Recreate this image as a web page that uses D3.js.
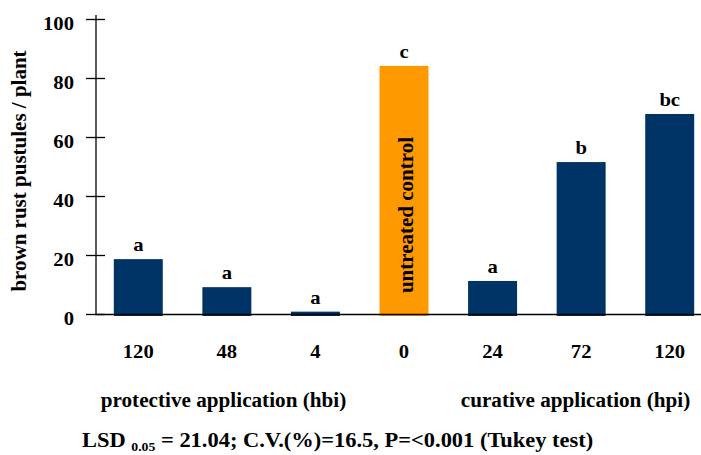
<!DOCTYPE html>
<html>
<head>
<meta charset="utf-8">
<script src="https://cdn.jsdelivr.net/npm/d3@7"></script>
<style>
  html, body { margin: 0; padding: 0; background: #ffffff; }
  svg { display: block; }
  text { font-family: "Liberation Serif", "Times New Roman", serif; font-weight: bold; fill: #000; }
</style>
</head>
<body>
<div id="chart"></div>
<script>
// ---- data ----
const tickLabels = ["120", "48", "4", "0", "24", "72", "120"];
const values = [18.6, 9.1, 0.8, 84.1, 11.2, 51.5, 67.8];
const letters = ["a", "a", "a", "c", "a", "b", "bc"];
const isControl = [false, false, false, true, false, false, false];
const yTicks = [0, 20, 40, 60, 80, 100];
const groupLabels = ["protective application (hbi)", "curative application (hpi)"];
const yTitle = "brown rust pustules / plant";
const controlLabel = "untreated control";

// ---- layout ----
const W = 701, H = 455;
const SX = 1.06; // slight horizontal stretch of the text in the original
const svg = d3.select("#chart").append("svg").attr("width", W).attr("height", H);

const idx = d3.range(values.length);
const x = d3.scaleBand().domain(idx).range([94, 714]).paddingInner(0.447).paddingOuter(0.2235);
const y = d3.scaleLinear().domain([0, 100]).range([314, 19]);

function stext(px, py, str, size, anchor) {
  const g = svg.append("g").attr("transform", `translate(${px},${py}) scale(${SX},1)`);
  return g.append("text").attr("text-anchor", anchor || "middle").style("font-size", size + "px").text(str);
}

// bars
svg.append("g").selectAll("rect").data(idx).join("rect")
  .attr("x", i => x(i))
  .attr("width", x.bandwidth())
  .attr("y", i => y(values[i]))
  .attr("height", i => y(0) - y(values[i]) + 2)
  .attr("fill", i => isControl[i] ? "#ff9900" : "#003366");

// y axis
const yAxis = d3.axisLeft(y).tickValues(yTicks).tickSize(10).tickFormat("");
const gy = svg.append("g").attr("transform", "translate(96,0)").call(yAxis);
gy.select(".domain").remove();
gy.selectAll(".tick line").attr("x1", -10).attr("x2", 9).attr("stroke", "#000").attr("stroke-width", 1.3);
svg.append("line").attr("x1", 96).attr("x2", 96).attr("y1", 15).attr("y2", y(0))
  .attr("stroke", "#000").attr("stroke-width", 1.3);
yTicks.forEach(t => stext(74, y(t) + 11, String(t), 19.5, "end"));

// x axis line
svg.append("line").attr("x1", 95).attr("x2", W).attr("y1", y(0) + 0.5).attr("y2", y(0) + 0.5)
  .attr("stroke", "#000").attr("stroke-width", 1.5);

// x tick labels
idx.forEach(i => stext(x(i) + x.bandwidth() / 2, 358, tickLabels[i], 19.5));

// significance letters
idx.forEach(i => stext(x(i) + x.bandwidth() / 2, y(values[i]) - 8, letters[i], 19.5));

// control label inside orange bar
const ci = isControl.indexOf(true);
svg.append("text")
  .attr("transform", `translate(${x(ci) + x.bandwidth() / 2 + 8.5},${215}) rotate(-90)`)
  .attr("text-anchor", "middle").style("font-size", "21px").text(controlLabel);

// y title
svg.append("text")
  .attr("transform", "translate(26,171) rotate(-90)")
  .attr("text-anchor", "middle").style("font-size", "21px").text(yTitle);

// group labels
stext(223.5, 407, groupLabels[0], 20);
stext(575.5, 407, groupLabels[1], 20);

// LSD footnote
const gf = svg.append("g").attr("transform", `translate(82,447) scale(${SX},1)`);
const ft = gf.append("text").style("font-size", "21.2px");
ft.append("tspan").text("LSD ");
ft.append("tspan").attr("dy", 4).style("font-size", "13px").text("0.05");
ft.append("tspan").attr("dy", -4).text(" = 21.04; C.V.(%)=16.5, P=<0.001 (Tukey test)");
</script>
</body>
</html>
